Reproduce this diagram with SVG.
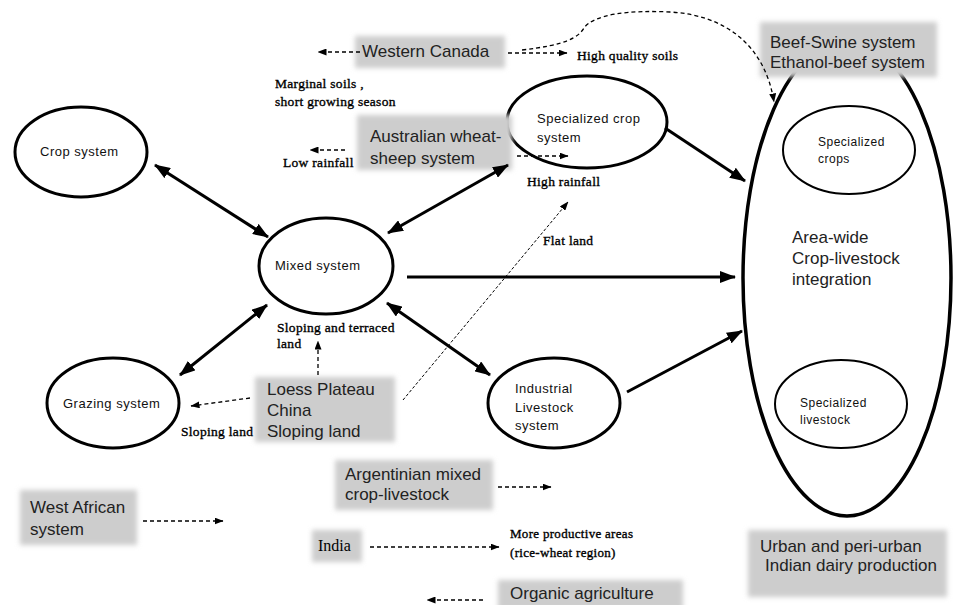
<svg xmlns="http://www.w3.org/2000/svg" width="955" height="605" viewBox="0 0 955 605">
<defs>
<filter id="soft" x="-10%" y="-20%" width="120%" height="140%"><feGaussianBlur stdDeviation="2.5"/></filter>
<marker id="big" viewBox="0 0 16 12" refX="15" refY="6" markerWidth="16" markerHeight="12" markerUnits="userSpaceOnUse" orient="auto-start-reverse"><path d="M0,0 L16,6 L0,12 Z" fill="#000"/></marker>
<marker id="sm" viewBox="0 0 9 7" refX="8.5" refY="3.5" markerWidth="9" markerHeight="7" markerUnits="userSpaceOnUse" orient="auto-start-reverse"><path d="M0,0 L9,3.5 L0,7 Z" fill="#000"/></marker>
<style>
.node{fill:#fff;stroke:#000;stroke-width:3}
.inner{fill:#fff;stroke:#000;stroke-width:2}
.big{fill:#fff;stroke:#000;stroke-width:3.5}
.box{fill:#cdcdcd;filter:url(#soft)}
.lbl{font-family:"Liberation Sans",Arial,sans-serif;font-size:13px;letter-spacing:0.5px;fill:#111}
.lbl2{font-family:"Liberation Sans",Arial,sans-serif;font-size:12px;letter-spacing:0.5px;fill:#111}
.bx{font-family:"Liberation Sans",Arial,sans-serif;font-size:17px;fill:#222}
.sf{font-family:"Liberation Serif","Times New Roman",serif;font-size:13.5px;letter-spacing:0.3px;fill:#000;stroke:#000;stroke-width:0.35}
.solid{stroke:#000;stroke-width:3;fill:none}
.dash{stroke:#000;stroke-width:1.3;stroke-dasharray:4 3;fill:none}
.thin{stroke:#000;stroke-width:1;stroke-dasharray:3 2;fill:none}
</style>
</defs>
<rect width="955" height="605" fill="#fff"/>

<g id="big-integration">
<ellipse class="big" cx="847" cy="278" rx="104" ry="238"/>
<text class="bx" x="792" y="243">Area-wide</text>
<text class="bx" x="792" y="264">Crop-livestock</text>
<text class="bx" x="792" y="285">integration</text>
</g>
<g id="specialized-crops">
<ellipse class="inner" cx="849" cy="150" rx="66" ry="44"/>
<text class="lbl2" x="818" y="146">Specialized</text>
<text class="lbl2" x="818" y="163">crops</text>
</g>
<g id="specialized-livestock">
<ellipse class="inner" cx="841" cy="404" rx="66" ry="44"/>
<text class="lbl2" x="800" y="407">Specialized</text>
<text class="lbl2" x="800" y="424">livestock</text>
</g>
<g id="beef-swine">
<rect class="box" x="760" y="22" width="177" height="55"/>
<text class="bx" x="770" y="48">Beef-Swine system</text>
<text class="bx" x="770" y="68">Ethanol-beef system</text>
</g>
<g id="urban">
<rect class="box" x="748" y="530" width="199" height="67"/>
<text class="bx" x="760" y="552">Urban and peri-urban</text>
<text class="bx" x="765" y="571">Indian dairy production</text>
</g>

<g id="crop-system">
<ellipse class="node" cx="81" cy="152" rx="66" ry="45"/>
<text class="lbl" x="40" y="156">Crop system</text>
</g>
<g id="mixed-system">
<ellipse class="node" cx="326" cy="266" rx="67" ry="48"/>
<text class="lbl" x="275" y="270">Mixed system</text>
</g>
<g id="grazing-system">
<ellipse class="node" cx="113" cy="403" rx="66" ry="45"/>
<text class="lbl" x="63" y="408">Grazing system</text>
</g>
<g id="specialized-crop-system">
<ellipse class="node" cx="587" cy="122" rx="80" ry="46"/>
<text class="lbl" x="537" y="123">Specialized crop</text>
<text class="lbl" x="537" y="142">system</text>
</g>
<g id="industrial-livestock">
<ellipse class="node" cx="554" cy="403" rx="66" ry="45"/>
<text class="lbl" x="515" y="393">Industrial</text>
<text class="lbl" x="515" y="412">Livestock</text>
<text class="lbl" x="515" y="430">system</text>
</g>

<g id="western-canada">
<rect class="box" x="355" y="36" width="150" height="32"/>
<text class="bx" x="362" y="57">Western Canada</text>
</g>
<g id="australian">
<rect class="box" x="357" y="115" width="155" height="55"/>
<text class="bx" x="370" y="142">Australian wheat-</text>
<text class="bx" x="370" y="164">sheep system</text>
</g>
<g id="loess">
<rect class="box" x="255" y="377" width="140" height="65"/>
<text class="bx" x="267" y="395">Loess Plateau</text>
<text class="bx" x="267" y="416">China</text>
<text class="bx" x="267" y="437">Sloping land</text>
</g>
<g id="argentinian">
<rect class="box" x="335" y="460" width="158" height="50"/>
<text class="bx" x="345" y="480">Argentinian mixed</text>
<text class="bx" x="345" y="500">crop-livestock</text>
</g>
<g id="india">
<rect class="box" x="312" y="530" width="50" height="32"/>
<text x="318" y="551" style="font-family:'Liberation Serif','Times New Roman',serif;font-size:16px;fill:#000">India</text>
</g>
<g id="organic">
<rect class="box" x="498" y="580" width="185" height="30"/>
<text class="bx" x="510" y="599">Organic agriculture</text>
</g>
<g id="west-african">
<rect class="box" x="20" y="490" width="117" height="55"/>
<text class="bx" x="30" y="513">West African</text>
<text class="bx" x="30" y="535">system</text>
</g>

<g id="labels">
<text class="sf" x="577" y="60">High quality soils</text>
<text class="sf" x="275" y="88">Marginal soils ,</text>
<text class="sf" x="275" y="106">short growing season</text>
<text class="sf" x="283" y="167">Low rainfall</text>
<text class="sf" x="527" y="186">High rainfall</text>
<text class="sf" x="543" y="245">Flat land</text>
<text class="sf" x="277" y="332">Sloping and terraced</text>
<text class="sf" x="277" y="348">land</text>
<text class="sf" x="181" y="436">Sloping land</text>
<text class="sf" x="510" y="538" style="font-size:13px">More productive areas</text>
<text class="sf" x="510" y="557" style="font-size:13px">(rice-wheat region)</text>
</g>

<g id="connectors">
<line class="solid" x1="155" y1="165" x2="268" y2="237" marker-start="url(#big)" marker-end="url(#big)"/>
<line class="solid" x1="388" y1="233" x2="508" y2="165" marker-start="url(#big)" marker-end="url(#big)"/>
<line class="solid" x1="267" y1="305" x2="180" y2="375" marker-start="url(#big)" marker-end="url(#big)"/>
<line class="solid" x1="387" y1="303" x2="490" y2="375" marker-start="url(#big)" marker-end="url(#big)"/>
<line class="solid" x1="407" y1="277" x2="735" y2="277" marker-end="url(#big)"/>
<line class="solid" x1="665" y1="128" x2="745" y2="181" marker-end="url(#big)"/>
<line class="solid" x1="627" y1="392" x2="742" y2="331" marker-end="url(#big)"/>

<line class="dash" x1="360" y1="52" x2="318" y2="52" marker-end="url(#sm)"/>
<line class="dash" x1="508" y1="53" x2="567" y2="53" marker-end="url(#sm)"/>
<path class="dash" d="M522 50 C565 45,578 38,584 28 C594 14,630 10,670 12 C725 15,765 45,774 102" marker-end="url(#sm)"/>
<line class="dash" x1="345" y1="150" x2="310" y2="150" marker-end="url(#sm)"/>
<line class="dash" x1="517" y1="156" x2="568" y2="156" marker-end="url(#sm)"/>
<line class="thin" x1="403" y1="400" x2="568" y2="202" marker-end="url(#sm)"/>
<line class="dash" x1="318" y1="375" x2="318" y2="341" marker-end="url(#sm)"/>
<line class="dash" x1="250" y1="398" x2="191" y2="406" marker-end="url(#sm)"/>
<line class="dash" x1="498" y1="487" x2="551" y2="487" marker-end="url(#sm)"/>
<line class="dash" x1="370" y1="547" x2="499" y2="547" marker-end="url(#sm)"/>
<line class="dash" x1="483" y1="600" x2="427" y2="600" marker-end="url(#sm)"/>
<line class="dash" x1="143" y1="521" x2="223" y2="521" marker-end="url(#sm)"/>
</g>
</svg>
